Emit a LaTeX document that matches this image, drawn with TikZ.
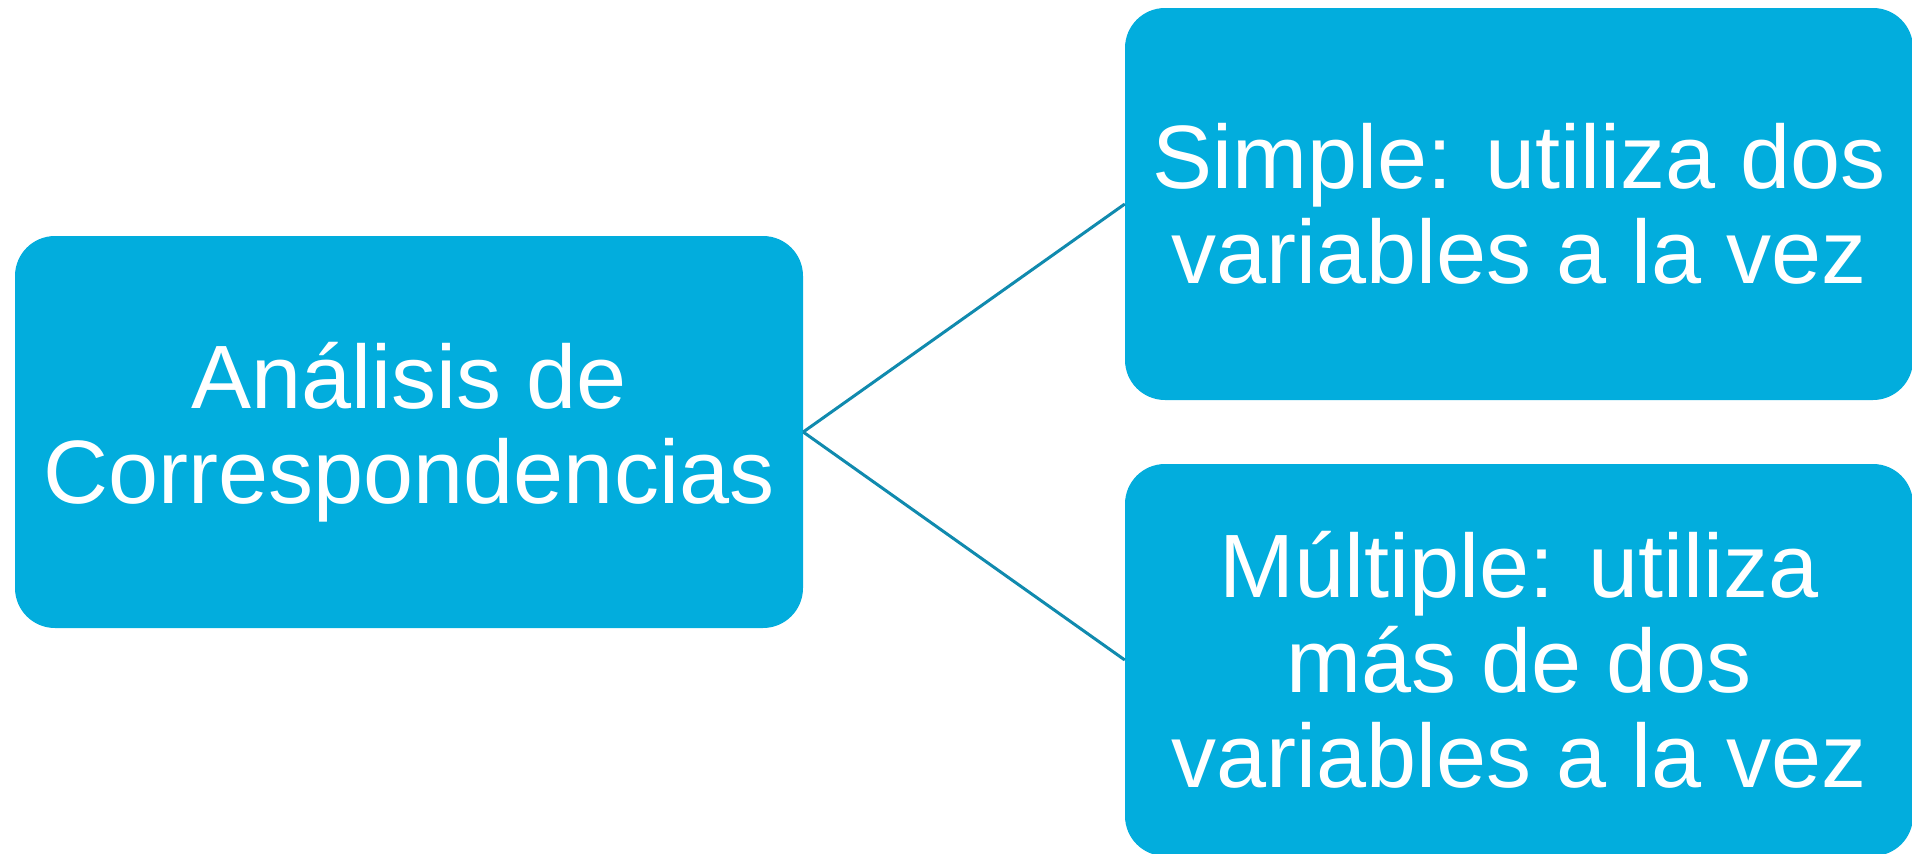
\documentclass[tikz,border=0pt]{standalone}
\usepackage{fontspec}
\setmainfont{Liberation Sans}
\definecolor{azul}{RGB}{2,173,221}
\definecolor{linea}{RGB}{16,138,174}
\begin{document}
\begin{tikzpicture}[x=1pt, y=-1pt,
        caja/.style={fill=azul, rounded corners=40pt, minimum width=788pt, minimum height=392pt,
            inner sep=0pt, text=white, align=center, font=\fontsize{90}{95}\selectfont},
        rama/.style={draw=linea, line width=3pt}]
    \useasboundingbox (0,0) rectangle (1912,854);
    \node at (409,432) [caja] (AC) {Análisis de\\Correspondencias};
    \node at (1519,204) [caja] (S) {Simple: utiliza dos\\variables a la vez};
    \node at (1519,660) [caja] (M) {Múltiple: utiliza\\más de dos\\variables a la vez};
    \draw[rama] (AC.east) -- (S.west);
    \draw[rama] (AC.east) -- (M.west);
\end{tikzpicture}
\end{document}
